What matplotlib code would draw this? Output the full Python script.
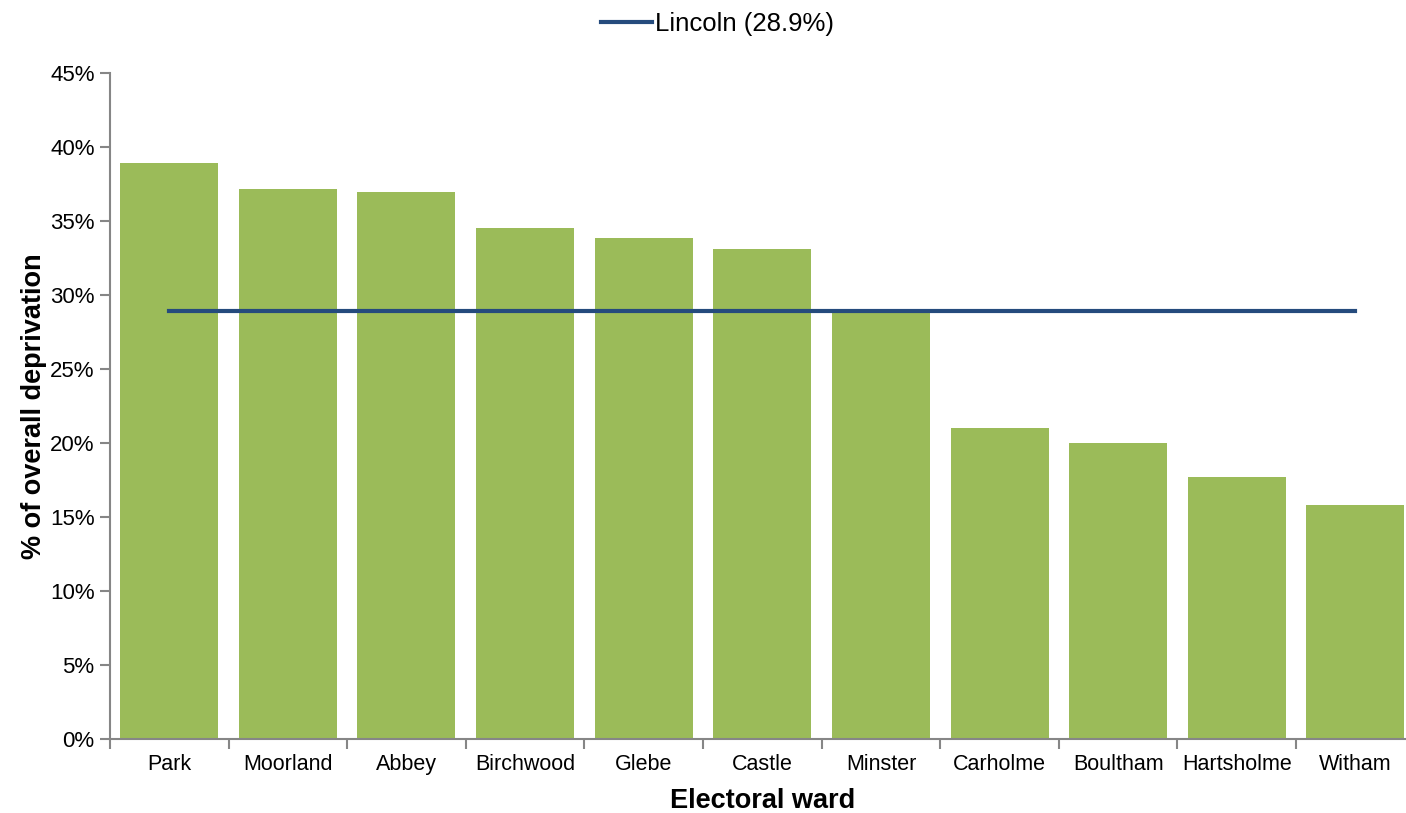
# 林肯市各选区总体贫困比例柱状图
import matplotlib.pyplot as plt
from matplotlib.ticker import PercentFormatter, FixedLocator, NullFormatter
import numpy as np

plt.rcParams['font.family'] = ['Liberation Sans', 'DejaVu Sans']

# 数据
wards = ['Park', 'Moorland', 'Abbey', 'Birchwood', 'Glebe', 'Castle',
         'Minster', 'Carholme', 'Boultham', 'Hartsholme', 'Witham']
deprivation = [38.9, 37.15, 37.0, 34.55, 33.85, 33.1, 28.95, 21.0, 20.0, 17.7, 15.8]
lincoln_avg = 28.9

fig = plt.figure(figsize=(14.06, 8.13), dpi=100)
ax = fig.add_axes([0.0782, 0.091, 0.928, 0.819])

x = np.arange(len(wards))
ax.bar(x, deprivation, width=0.826, color='#9BBB59', zorder=2)
ax.plot([x[0], x[-1]], [lincoln_avg, lincoln_avg], color='#254B7D', linewidth=3,
        label=f'Lincoln ({lincoln_avg}%)', zorder=3)

ax.set_xlim(-0.5, len(wards) - 0.5)
ax.set_ylim(0, 45)
ax.set_yticks(np.arange(0, 46, 5))
ax.yaxis.set_major_formatter(PercentFormatter(decimals=0))

# x 轴：刻度线位于类别之间
ax.set_xticks(x)
ax.set_xticklabels(wards, fontsize=15.5)
ax.tick_params(axis='x', which='major', length=0, pad=11)
ax.xaxis.set_minor_locator(FixedLocator(np.arange(-0.5, len(wards) + 0.5, 1)))
ax.xaxis.set_minor_formatter(NullFormatter())
ax.tick_params(axis='x', which='minor', length=7, width=1.5, color='#868686')
ax.tick_params(axis='y', length=7, width=1.5, color='#868686', labelsize=16, pad=4)

for side in ['top', 'right']:
    ax.spines[side].set_visible(False)
for side in ['left', 'bottom']:
    ax.spines[side].set_color('#868686')
    ax.spines[side].set_linewidth(1.5)

ax.set_xlabel('Electoral ward', fontsize=19.5, fontweight='bold', labelpad=9)
ax.set_ylabel('% of overall deprivation', fontsize=19.5, fontweight='bold', labelpad=2)

fig.legend(loc='upper center', bbox_to_anchor=(0.51, 1.014), frameon=False,
           fontsize=18.5, handlelength=2.0, handletextpad=0.1)

fig.savefig('out.png', dpi=100)
